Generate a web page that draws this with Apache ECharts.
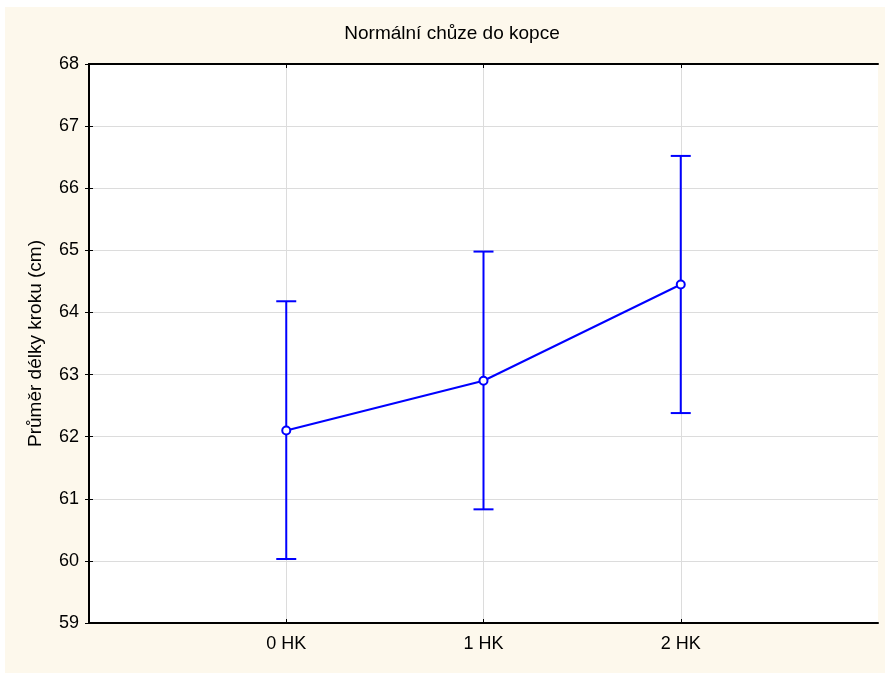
<!DOCTYPE html>
<html>
<head>
<meta charset="utf-8">
<script src="https://cdn.jsdelivr.net/npm/echarts@6/dist/echarts.min.js"></script>
<style>
html,body{margin:0;padding:0;background:#ffffff;}
#c{width:885px;height:673px;}
</style>
</head>
<body>
<div id="c"></div>
<script>
var categories = ['0 HK', '1 HK', '2 HK'];
var means = [62.1, 62.9, 64.45];
var upper = [64.18, 64.98, 66.52];
var lower = [60.03, 60.83, 62.38];
var yTicks = [59, 60, 61, 62, 63, 64, 65, 66, 67, 68];

var chart = echarts.init(document.getElementById('c'), null, {renderer: 'canvas'});
var font = 'Liberation Sans, Arial, sans-serif';
var pos = categories.map(function (c, i) { return i + 1; });
var lineData = means.map(function (m, i) { return [pos[i], m]; });
var errData = means.map(function (m, i) { return [pos[i], lower[i], upper[i]]; });

var xCommon = {
  type: 'value', min: 0, max: 4, interval: 1,
  axisLine: {show: true, lineStyle: {color: '#000', width: 2}},
};
var yCommon = {
  type: 'value', min: yTicks[0], max: yTicks[yTicks.length - 1], interval: 1,
  axisLine: {show: true, lineStyle: {color: '#000', width: 2}},
  axisTick: {show: true, inside: true, length: 4, lineStyle: {color: '#000', width: 1}},
};

chart.setOption({
  animation: false,
  backgroundColor: '#ffffff',
  graphic: [{
    type: 'rect', left: 5, top: 7, z: -10, silent: true,
    shape: {width: 880, height: 666},
    style: {fill: '#fdf8ec'}
  }, {
    type: 'rect', left: 89, top: 64, z: -9, silent: true,
    shape: {width: 789, height: 559},
    style: {fill: '#ffffff'}
  }, {
    type: 'text', x: 452, y: 34, silent: true,
    style: {
      text: 'Normální chůze do kopce',
      fontFamily: font, fontSize: 19, fill: '#000',
      textAlign: 'center', textVerticalAlign: 'middle'
    }
  }],
  grid: {left: 89, top: 64, width: 789, height: 559, containLabel: false},
  xAxis: [
    Object.assign({}, xCommon, {
      position: 'bottom',
      axisLabel: {
        show: true, margin: 12, fontFamily: font, fontSize: 18, color: '#000',
        formatter: function (v) { var i = Math.round(v) - 1; return (i >= 0 && i < categories.length) ? categories[i] : ''; }
      },
      splitLine: {show: true, lineStyle: {color: '#dcdcdc', width: 1}},
      axisTick: {show: true, inside: true, length: 4, lineStyle: {color: '#000', width: 1},
        customValues: pos},
    }),
    Object.assign({}, xCommon, {
      position: 'top',
      axisLabel: {show: false},
      splitLine: {show: false},
      axisTick: {show: true, inside: true, length: 4, lineStyle: {color: '#000', width: 1},
        customValues: pos},
    })
  ],
  yAxis: [
    Object.assign({}, yCommon, {
      position: 'left',
      name: 'Průměr délky kroku (cm)',
      nameLocation: 'middle', nameGap: 44, nameRotate: 90,
      nameTextStyle: {fontFamily: font, fontSize: 19, color: '#000'},
      axisLabel: {show: true, margin: 10, fontFamily: font, fontSize: 18, color: '#000'},
      splitLine: {show: true, lineStyle: {color: '#dcdcdc', width: 1}},
    }),
    Object.assign({}, yCommon, {
      position: 'right',
      axisLabel: {show: false},
      splitLine: {show: false},
    })
  ],
  series: [{
    type: 'custom',
    xAxisIndex: 0, yAxisIndex: 0,
    data: errData,
    z: 3,
    renderItem: function (params, api) {
      var x = api.value(0);
      var lo = api.coord([x, api.value(1)]);
      var hi = api.coord([x, api.value(2)]);
      var hw = 10;
      var st = {stroke: '#0000ff', lineWidth: 2, fill: null};
      return {
        type: 'group',
        children: [
          {type: 'line', shape: {x1: lo[0], y1: lo[1], x2: hi[0], y2: hi[1]}, style: st},
          {type: 'line', shape: {x1: lo[0] - hw, y1: lo[1], x2: lo[0] + hw, y2: lo[1]}, style: st},
          {type: 'line', shape: {x1: hi[0] - hw, y1: hi[1], x2: hi[0] + hw, y2: hi[1]}, style: st}
        ]
      };
    }
  }, {
    type: 'line',
    xAxisIndex: 0, yAxisIndex: 0,
    data: lineData,
    z: 4,
    symbol: 'circle', symbolSize: 8, showSymbol: true,
    lineStyle: {color: '#0000ff', width: 2},
    itemStyle: {color: '#ffffff', borderColor: '#0000ff', borderWidth: 2}
  }]
});
</script>
</body>
</html>
